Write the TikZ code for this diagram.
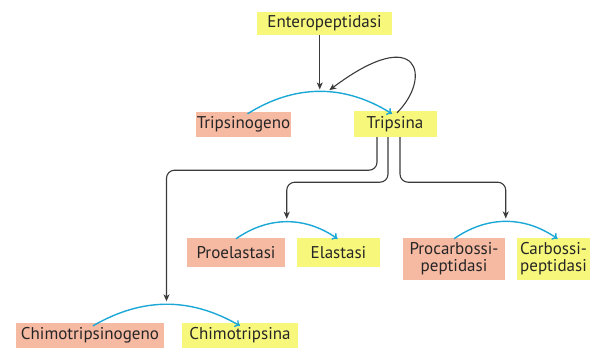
\documentclass[tikz,border=0pt]{standalone}
\usepackage{fontspec}
\setmainfont{PT Sans}
\usetikzlibrary{arrows.meta,calc}
\definecolor{ylw}{HTML}{F7F77C}
\definecolor{slm}{HTML}{F6B9A2}
\definecolor{arcb}{HTML}{1CA8D6}
\definecolor{dk}{HTML}{3A3A3A}
\begin{document}
\begin{tikzpicture}[x=1pt,y=-1pt,
  box/.style={inner sep=0pt, align=center, font=\fontsize{17}{17}\selectfont, text=black!85},
  yb/.style={box, fill=ylw},
  sb/.style={box, fill=slm},
  bluearc/.style={draw=arcb, line width=1.4pt, -{To[length=5pt,width=8pt]}},
  conn/.style={draw=dk, line width=1.1pt, -{Stealth[length=7pt,width=6pt,inset=2pt]}, rounded corners=8pt}]
\useasboundingbox (0,0) rectangle (597,349);
\node[yb, minimum width=135pt, minimum height=23pt] (ent) at (324.5,23.5) {Enteropeptidasi};
\node[sb, minimum width=95pt, minimum height=25pt] (tgn) at (243.5,124.5) {Tripsinogeno};
\node[yb, minimum width=83pt, minimum height=26pt] (trp) at (395,124) {Tripsina};
\node[sb, minimum width=98pt, minimum height=29pt] (pel) at (236,252.5) {Proelastasi};
\node[yb, minimum width=83pt, minimum height=29pt] (ela) at (338.5,252.5) {Elastasi};
\node[sb, minimum width=102pt, minimum height=42pt] (pcp) at (454,259) {Procarbossi-\\peptidasi};
\node[yb, minimum width=73pt, minimum height=42pt] (cpp) at (553.5,259) {Carbossi-\\peptidasi};
\node[sb, minimum width=148pt, minimum height=25pt] (ctg) at (90,335.5) {Chimotripsinogeno};
\node[yb, minimum width=116pt, minimum height=25pt] (ctr) at (240,335.5) {Chimotripsina};
% blue arcs
\draw[bluearc] ([xshift=4pt,yshift=-2pt]tgn.north) to[bend left=32] coordinate[pos=0.5] (m1) ([xshift=-3pt,yshift=-3pt]trp.north);
\draw[bluearc] ([yshift=-1pt]pel.north) to[bend left=35] coordinate[pos=0.5] (m2) ([xshift=-1pt,yshift=-1pt]ela.north);
\draw[bluearc] ([yshift=-1pt]pcp.north) to[bend left=35] coordinate[pos=0.5] (m3) ([xshift=4pt,yshift=-1pt]cpp.north);
\draw[bluearc] ([xshift=3pt,yshift=-3pt]ctg.north) to[bend left=30] coordinate[pos=0.5] (m4) ([yshift=-3pt]ctr.north);
% connectors
\draw[conn, shorten >=2pt] (ent.south -| m1) -- (m1);
\draw[conn, shorten >=2pt] ([xshift=2pt,yshift=-2pt]trp.north) .. controls (432,78) and (420,22) .. ([xshift=8pt]m1);
\coordinate (t1) at ([xshift=-18pt]trp.south);
\coordinate (t2) at ([xshift=-7pt]trp.south);
\coordinate (t3) at ([xshift=5pt]trp.south);
\draw[conn, shorten >=3pt] (t1) -- ++(0,33) -| (m4);
\draw[conn, shorten >=3pt] (t2) -- ++(0,45) -| (m2);
\draw[conn, shorten >=3pt] (t3) -- ++(0,45) -| (m3);
\end{tikzpicture}
\end{document}
